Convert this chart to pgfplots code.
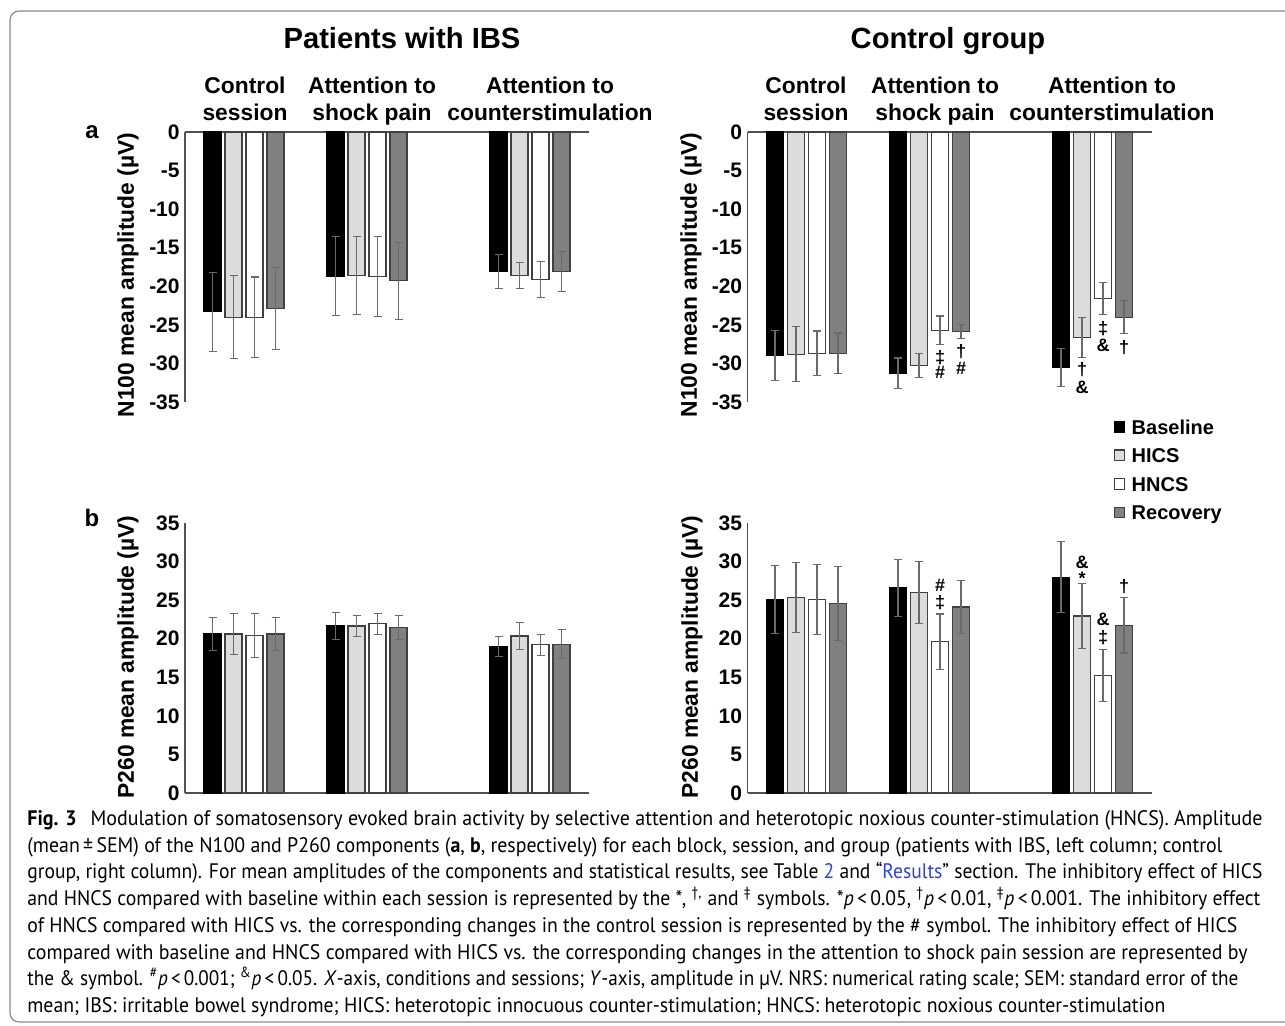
\documentclass[border=0pt]{standalone}
\usepackage{pgfplots}
\pgfplotsset{compat=1.18}
\usepackage{fontspec}
\setmainfont{Liberation Sans}
\newfontfamily\capfont{PT Sans}
\usepackage{graphicx}
\definecolor{hics}{HTML}{DCDCDC}
\definecolor{recov}{HTML}{808080}
\definecolor{edge}{HTML}{404040}
\definecolor{errc}{HTML}{6A6A6A}
\definecolor{axisc}{HTML}{505050}
\definecolor{linkblue}{HTML}{2F3FE0}
\definecolor{framec}{HTML}{8A8A8A}

\pgfplotsset{
 panel/.style={scale only axis, width=202pt, height=135pt, xmin=0, xmax=404,
   xtick=\empty, anchor=south west, clip=false,
   axis line style={draw=axisc, line width=0.6pt},
   every outer x axis line/.append style={-},
   every outer y axis line/.append style={-},
   major tick length=0pt,
   yticklabel style={font=\bfseries\fontsize{10.5}{12}\selectfont, inner sep=2.5pt},
   error bars/y dir=both, error bars/y explicit,
   error bars/error bar style={draw=errc, line width=0.55pt},
   error bars/error mark options={rotate=90, mark size=2pt, draw=errc, line width=0.55pt},
 },
 sBase/.style={ybar, bar width=17, bar shift=0pt, line width=0.6pt, fill=black, draw=black},
 sHICS/.style={ybar, bar width=17, bar shift=0pt, line width=0.6pt, fill=hics, draw=edge},
 sHNCS/.style={ybar, bar width=17, bar shift=0pt, line width=0.6pt, fill=white, draw=edge},
 sRec/.style={ybar, bar width=17, bar shift=0pt, line width=0.6pt, fill=recov, draw=edge},
}
\tikzset{ann/.style={font=\bfseries\fontsize{9}{10}\selectfont, inner sep=0pt},
  grp/.style={font=\bfseries\fontsize{11.4}{13.5}\selectfont, anchor=base, inner sep=0pt},
  ttl/.style={font=\bfseries\fontsize{14.6}{16}\selectfont, anchor=base, inner sep=0pt}}

\newcommand\capline[3]{\node[anchor=base west, inner sep=0pt] at (27,#1) {\resizebox{#2}{\height}{\capfont\fontsize{10.5}{12}\selectfont #3}};}

\begin{document}
\begin{tikzpicture}[x=0.5pt, y=0.5pt]
\useasboundingbox (0,0) rectangle (1285,1025);
\begin{scope}
\clip (0,0) rectangle (1285,1025);
\draw[framec, line width=0.6pt, rounded corners=4.5pt] (10,3) rectangle (1330,1014);
\end{scope}

% ---------- top left: N100, IBS ----------
\begin{axis}[panel, at={(92.5pt,311.5pt)}, ymin=-35, ymax=0,
  axis x line*=top, axis y line*=left,
  ytick={-35,-30,-25,-20,-15,-10,-5,0},
  yticklabels={-35,-30,-25,-20,-15,-10,-5,0}]
\addplot[sBase] coordinates {(27.5,-23.3) +- (0,5.1) (150.5,-18.7) +- (0,5.1) (313.5,-18.1) +- (0,2.2)};
\addplot[sHICS] coordinates {(48.5,-24.0) +- (0,5.4) (171.5,-18.6) +- (0,5.0) (334.5,-18.6) +- (0,1.7)};
\addplot[sHNCS] coordinates {(69.5,-24.0) +- (0,5.2) (192.5,-18.7) +- (0,5.2) (355.5,-19.1) +- (0,2.3)};
\addplot[sRec] coordinates {(90.5,-22.9) +- (0,5.3) (213.5,-19.3) +- (0,5.0) (376.5,-18.1) +- (0,2.6)};
\end{axis}

% ---------- top right: N100, control ----------
\begin{axis}[panel, at={(373.75pt,311.5pt)}, ymin=-35, ymax=0,
  axis x line*=top, axis y line*=left,
  ytick={-35,-30,-25,-20,-15,-10,-5,0},
  yticklabels={-35,-30,-25,-20,-15,-10,-5,0},
  legend entries={Baseline,HICS,HNCS,Recovery},
  legend cell align=left,
  legend style={at={(0.905,-0.056)}, anchor=north west, draw=none, fill=none,
    font=\bfseries\fontsize{10}{12}\selectfont, inner sep=0pt, row sep=3.0pt,
    nodes={inner sep=1pt, text height=7.3pt, text depth=2pt},
    /tikz/every odd column/.append style={column sep=2.2pt}},
  legend image code/.code={\draw[line width=0.6pt,#1] (0pt,-1.6pt) rectangle (5.3pt,3.7pt);}]
\addplot[sBase] coordinates {(27.5,-29.0) +- (0,3.25) (150.5,-31.25) +- (0,1.95) (313.5,-30.5) +- (0,2.45)};
\addplot[sHICS] coordinates {(48.5,-28.8) +- (0,3.6) (171.5,-30.3) +- (0,1.55) (334.5,-26.6) +- (0,2.6)};
\addplot[sHNCS] coordinates {(69.5,-28.7) +- (0,2.9) (192.5,-25.7) +- (0,1.85) (355.5,-21.6) +- (0,2.05)};
\addplot[sRec] coordinates {(90.5,-28.7) +- (0,2.65) (213.5,-25.85) +- (0,0.95) (376.5,-24.0) +- (0,2.15)};
\node[ann] at (axis cs:192.5,-29.2) {‡};
\node[ann] at (axis cs:192.5,-31.2) {\#};
\node[ann] at (axis cs:213.5,-28.4) {†};
\node[ann] at (axis cs:213.5,-30.7) {\#};
\node[ann] at (axis cs:334.5,-30.8) {†};
\node[ann] at (axis cs:334.5,-33.1) {\&};
\node[ann] at (axis cs:355.5,-25.5) {‡};
\node[ann] at (axis cs:355.5,-27.6) {\&};
\node[ann] at (axis cs:376.5,-27.9) {†};
\end{axis}

% ---------- bottom left: P260, IBS ----------
\begin{axis}[panel, at={(92.5pt,116pt)}, ymin=0, ymax=35,
  axis x line*=bottom, axis y line*=left,
  ytick={0,5,10,15,20,25,30,35},
  yticklabels={0,5,10,15,20,25,30,35}]
\addplot[sBase] coordinates {(27.5,20.6) +- (0,2.15) (150.5,21.65) +- (0,1.7) (313.5,19.0) +- (0,1.3)};
\addplot[sHICS] coordinates {(48.5,20.6) +- (0,2.7) (171.5,21.65) +- (0,1.4) (334.5,20.35) +- (0,1.8)};
\addplot[sHNCS] coordinates {(69.5,20.4) +- (0,2.85) (192.5,21.95) +- (0,1.35) (355.5,19.2) +- (0,1.35)};
\addplot[sRec] coordinates {(90.5,20.6) +- (0,2.15) (213.5,21.45) +- (0,1.6) (376.5,19.3) +- (0,1.9)};
\end{axis}

% ---------- bottom right: P260, control ----------
\begin{axis}[panel, at={(373.75pt,116pt)}, ymin=0, ymax=35,
  axis x line*=bottom, axis y line*=left,
  ytick={0,5,10,15,20,25,30,35},
  yticklabels={0,5,10,15,20,25,30,35}]
\addplot[sBase] coordinates {(27.5,25.1) +- (0,4.4) (150.5,26.6) +- (0,3.7) (313.5,27.95) +- (0,4.6)};
\addplot[sHICS] coordinates {(48.5,25.3) +- (0,4.55) (171.5,26.0) +- (0,4.0) (334.5,22.95) +- (0,4.25)};
\addplot[sHNCS] coordinates {(69.5,25.1) +- (0,4.55) (192.5,19.6) +- (0,3.6) (355.5,15.25) +- (0,3.35)};
\addplot[sRec] coordinates {(90.5,24.6) +- (0,4.8) (213.5,24.1) +- (0,3.4) (376.5,21.75) +- (0,3.6)};
\node[ann] at (axis cs:192.5,26.9) {\#};
\node[ann] at (axis cs:192.5,24.7) {‡};
\node[ann] at (axis cs:334.5,29.9) {\&};
\node[ann] at (axis cs:334.5,27.8) {*};
\node[ann] at (axis cs:355.5,22.5) {\&};
\node[ann] at (axis cs:355.5,20.2) {‡};
\node[ann] at (axis cs:376.5,26.8) {†};
\end{axis}

% ---------- titles and labels ----------
\node[ttl] at (402,976.5) {Patients with IBS};
\node[ttl] at (948,976.5) {Control group};
\node[grp] at (245,931) {Control};
\node[grp] at (245,904) {session};
\node[grp] at (372,931) {Attention to};
\node[grp] at (372,904) {shock pain};
\node[grp] at (550,931) {Attention to};
\node[grp] at (550,904) {counterstimulation};
\node[grp] at (806,931) {Control};
\node[grp] at (806,904) {session};
\node[grp] at (935,931) {Attention to};
\node[grp] at (935,904) {shock pain};
\node[grp] at (1112,931) {Attention to};
\node[grp] at (1112,904) {counterstimulation};
\node[font=\bfseries\fontsize{12}{14}\selectfont] at (92,893) {a};
\node[font=\bfseries\fontsize{12}{14}\selectfont] at (92,507) {b};
\begin{scope}[every node/.style={font=\bfseries\fontsize{11.4}{13}\selectfont, rotate=90}]
\node at (128,750) {N100 mean amplitude (µV)};
\node at (691,750) {N100 mean amplitude (µV)};
\node at (128,368) {P260 mean amplitude (µV)};
\node at (692,368) {P260 mean amplitude (µV)};
\end{scope}

% ---------- caption ----------
\capline{200}{617.5pt}{\textbf{Fig. 3}\hspace{0.7em}Modulation of somatosensory evoked brain activity by selective attention and heterotopic noxious counter-stimulation (HNCS). Amplitude}
\capline{173}{597.5pt}{(mean\,±\,SEM) of the N100 and P260 components (\textbf{a}, \textbf{b}, respectively) for each block, session, and group (patients with IBS, left column; control}
\capline{147}{617.5pt}{group, right column). For mean amplitudes of the components and statistical results, see Table \textcolor{linkblue}{2} and “\textcolor{linkblue}{Results}” section. The inhibitory effect of HICS}
\capline{120}{616.5pt}{and HNCS compared with baseline within each session is represented by the *, \textsuperscript{†,} and \textsuperscript{‡} symbols. *\textit{p}\,<\,0.05, \textsuperscript{†}\textit{p}\,<\,0.01, \textsuperscript{‡}\textit{p}\,<\,0.001. The inhibitory effect}
\capline{93}{605pt}{of HNCS compared with HICS vs. the corresponding changes in the control session is represented by the \# symbol. The inhibitory effect of HICS}
\capline{66}{610pt}{compared with baseline and HNCS compared with HICS vs. the corresponding changes in the attention to shock pain session are represented by}
\capline{40}{605.5pt}{the \& symbol. \textsuperscript{\#}\textit{p}\,<\,0.001; \textsuperscript{\&}\textit{p}\,<\,0.05. \textit{X}-axis, conditions and sessions; \textit{Y}-axis, amplitude in µV. NRS: numerical rating scale; SEM: standard error of the}
\capline{13}{569pt}{mean; IBS: irritable bowel syndrome; HICS: heterotopic innocuous counter-stimulation; HNCS: heterotopic noxious counter-stimulation}
\end{tikzpicture}
\end{document}
